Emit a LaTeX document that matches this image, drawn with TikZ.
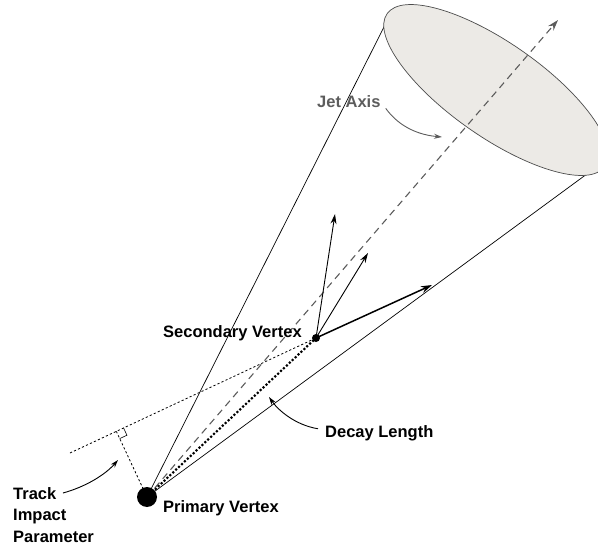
\documentclass[tikz,border=0pt]{standalone}
\usepackage{fontspec}
\setmainfont{Liberation Sans}
\usetikzlibrary{arrows.meta}
\usetikzlibrary{calc}
\definecolor{jetgray}{HTML}{5C5C5C}
\definecolor{capfill}{HTML}{ECEAE6}

\begin{document}
\begin{tikzpicture}[x=1pt, y=-1pt,
    txt/.style={font=\fontsize{16.5}{21.5}\selectfont\bfseries, inner sep=0pt}]
            % Jet cone with primary and secondary vertex
            \useasboundingbox (0,0) rectangle (598,551);
            \coordinate (pv) at (147,497);
            \coordinate (sv) at (316,338);
            \coordinate (coneL) at (385,25);
            \coordinate (coneR) at (591,171);
            \coordinate (cap) at (496,90);
            \coordinate (axis) at (558,20);
            \coordinate (trkA) at (335,214);
            \coordinate (trkB) at (368,253);
            \coordinate (trkC) at (432,285);
            \coordinate (trkback) at (70,453);
            \coordinate (foot) at ($(trkback)!(pv)!(sv)$);
            \coordinate (raA) at ($(foot)!8pt!(sv)$);
            \coordinate (raB) at ($(foot)!8pt!(pv)$);

            \draw[line width=0.7] (pv) -- (coneL);
            \draw[line width=0.7] (pv) -- (coneR);
            \draw[line width=0.7, draw=black!70, fill=capfill, rotate around={-35:(cap)}] (cap) ellipse (133 and 47);
            \draw[jetgray, line width=1.1, dash pattern=on 7pt off 5pt, -{Stealth[length=11pt,width=7pt]}] (pv) -- (axis);

            \draw[line width=0.8, dash pattern=on 2.2pt off 2.2pt] (trkback) -- (sv);
            \draw[line width=0.8, dash pattern=on 2.2pt off 2.2pt] (foot) -- (pv);
            \draw[line width=0.6] (raA) -- ($(raA)+(raB)-(foot)$) -- (raB);
            \draw[line width=3, line cap=round, dash pattern=on 0pt off 4pt] (pv) -- (sv);

            \draw[line width=0.9, -{Stealth[length=10pt,width=6pt]}] (sv) -- (trkA);
            \draw[line width=0.9, -{Stealth[length=10pt,width=6pt]}] (sv) -- (trkB);
            \draw[line width=1.5, -{Stealth[length=11pt,width=7pt]}] (sv) -- (trkC);
            \fill (pv) circle (10);
            \fill (sv) circle (4);

            \node[txt, jetgray, anchor=base west] (jetlbl) at (317,108) {Jet Axis};
            \node[txt, anchor=base west] (svlbl) at (163,337) {Secondary Vertex};
            \node[txt, anchor=base west] (pvlbl) at (163,512) {Primary Vertex};
            \node[txt, anchor=base west] (dllbl) at (325,437) {Decay Length};
            \node[txt, align=left, anchor=north west] (iplbl) at (13,487) {Track\\Impact\\Parameter};

            \coordinate (jetpt) at (442,137);
            \coordinate (dlpt) at (269,397);
            \coordinate (ippt) at (118,460);
            \draw[jetgray, line width=0.9, -{Stealth[length=8pt,width=5pt]}] ([xshift=5pt]jetlbl.south east) .. controls (400,128) and (420,135) .. (jetpt);
            \draw[line width=0.9, -{Stealth[length=8pt,width=5pt]}] ([xshift=-7pt,yshift=4pt]dllbl.west) .. controls (295,425) and (278,410) .. (dlpt);
            \draw[line width=0.9, -{Stealth[length=8pt,width=5pt]}] (63,493) .. controls (85,487) and (105,475) .. (ippt);
        \end{tikzpicture}
\end{document}
